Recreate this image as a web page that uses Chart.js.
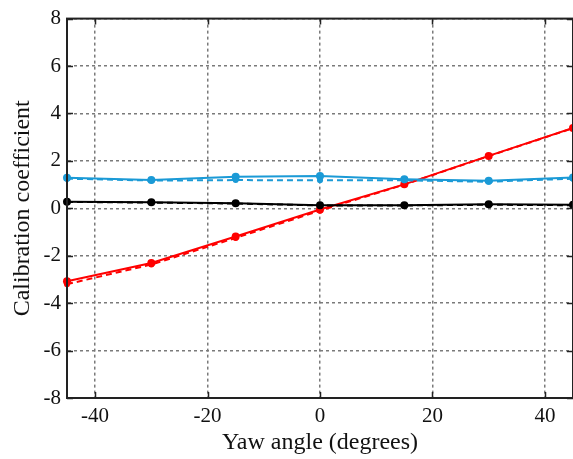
<!DOCTYPE html>
<html>
<head>
<meta charset="utf-8">
<script src="https://cdn.jsdelivr.net/npm/chart.js@4"></script>
<style>
  html, body { margin: 0; padding: 0; background: #fff; }
  #wrap { width: 573px; height: 459px; }
</style>
</head>
<body>
<div id="wrap"><canvas id="calib-chart"></canvas></div>
<script>
// yaw angles (degrees)
const yawAngles = [-45, -30, -15, 0, 15, 30, 45];
const xTicks = [-40, -20, 0, 20, 40];
const yTicks = [-8, -6, -4, -2, 0, 2, 4, 6, 8];

// calibration coefficients
const redSolid   = [-3.08, -2.31, -1.19, -0.05, 1.01, 2.21, 3.39];
const redDashed  = [-3.2, -2.37, -1.25, -0.1, 1.0, 2.2, 3.38];
const blueSolid  = [1.29, 1.19, 1.33, 1.36, 1.23, 1.16, 1.3];
const blueDashed = [1.25, 1.17, 1.19, 1.18, 1.18, 1.12, 1.25];
const blackSolid = [0.28, 0.25, 0.21, 0.13, 0.13, 0.17, 0.15];
const blackDashed = [0.27, 0.24, 0.2, 0.12, 0.12, 0.15, 0.13];

const RED = '#ff0000';
const BLUE = '#1b9ad6';
const BLACK = '#000000';

function series(label, values, color, dashed) {
  return {
    label: label,
    data: yawAngles.map((x, i) => ({ x: x, y: values[i] })),
    borderColor: color,
    backgroundColor: color,
    borderWidth: 2,
    borderDash: dashed ? [6, 4] : [],
    pointRadius: dashed ? 3 : 4,
    pointBorderWidth: 0,
    tension: 0,
    clip: 6
  };
}

// box around plot + inward tick marks
const framePlugin = {
  id: 'frame',
  afterDraw(chart) {
    const ctx = chart.ctx;
    const a = chart.chartArea;
    const xs = chart.scales.x, ys = chart.scales.y;
    ctx.save();
    ctx.strokeStyle = '#222';
    ctx.lineWidth = 2;
    ctx.strokeRect(a.left, a.top, a.right - a.left, a.bottom - a.top);
    ctx.lineWidth = 1.5;
    ctx.beginPath();
    xTicks.forEach(v => {
      const px = Math.round(xs.getPixelForValue(v)) + 0.5;
      ctx.moveTo(px, a.bottom); ctx.lineTo(px, a.bottom - 6);
      ctx.moveTo(px, a.top); ctx.lineTo(px, a.top + 6);
    });
    yTicks.forEach(v => {
      const py = Math.round(ys.getPixelForValue(v)) + 0.5;
      ctx.moveTo(a.left, py); ctx.lineTo(a.left + 6, py);
      ctx.moveTo(a.right, py); ctx.lineTo(a.right - 6, py);
    });
    ctx.stroke();
    ctx.restore();
  }
};

const tickFont = { family: '"Liberation Serif", "DejaVu Serif", serif', size: 21 };
const titleFont = { family: '"Liberation Serif", "DejaVu Serif", serif', size: 24 };
const gridStyle = {
  color: '#7a7a7a',
  lineWidth: 1.5,
  drawTicks: false
};
const gridBorder = { display: true, color: '#222', width: 2, dash: [3, 3] };

new Chart(document.getElementById('calib-chart'), {
  type: 'line',
  data: {
    datasets: [
      series('Black dashed', blackDashed, BLACK, true),
      series('Black', blackSolid, BLACK, false),
      series('Blue dashed', blueDashed, BLUE, true),
      series('Blue', blueSolid, BLUE, false),
      series('Red dashed', redDashed, RED, true),
      series('Red', redSolid, RED, false)
    ]
  },
  options: {
    responsive: true,
    maintainAspectRatio: false,
    animation: false,
    layout: { autoPadding: false, padding: { top: 17, right: 0, left: 0, bottom: 0 } },
    plugins: {
      legend: { display: false },
      tooltip: { enabled: false }
    },
    scales: {
      x: {
        type: 'linear',
        min: -45,
        max: 45,
        afterBuildTicks: (scale) => { scale.ticks = xTicks.map(v => ({ value: v })); },
        afterFit: (scale) => { scale.height = 61; },
        grid: gridStyle,
        border: gridBorder,
        ticks: { color: '#111', font: tickFont, padding: 6, maxRotation: 0 },
        title: { display: true, text: 'Yaw angle (degrees)', color: '#111', font: titleFont, padding: { top: 0, bottom: 2 } }
      },
      y: {
        min: -8,
        max: 8,
        afterBuildTicks: (scale) => { scale.ticks = yTicks.map(v => ({ value: v })); },
        afterFit: (scale) => { scale.width = 67; },
        grid: gridStyle,
        border: gridBorder,
        ticks: { color: '#111', font: tickFont, padding: 6 },
        title: { display: true, text: 'Calibration coefficient', color: '#111', font: titleFont, padding: { top: 8, bottom: 0 } }
      }
    }
  },
  plugins: [framePlugin]
});
</script>
</body>
</html>
